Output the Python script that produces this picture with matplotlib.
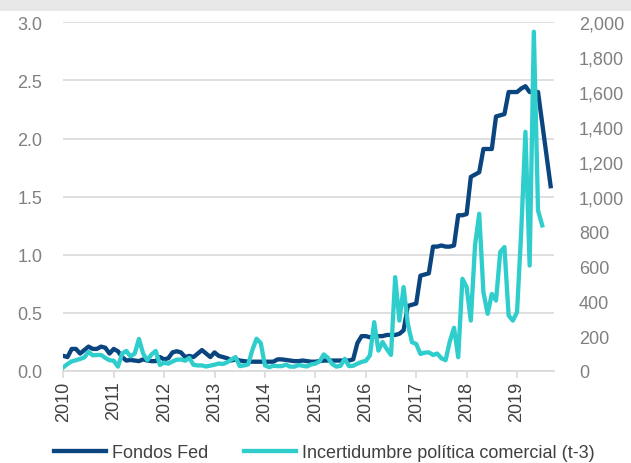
import matplotlib
matplotlib.use("Agg")
import matplotlib.pyplot as plt
from matplotlib.patches import Rectangle
import numpy as np

plt.rcParams['font.family'] = ['Liberation Sans', 'DejaVu Sans']

years = ['2010', '2011', '2012', '2013', '2014', '2015', '2016', '2017', '2018', '2019']

fed_funds = [0.13, 0.12, 0.19, 0.19, 0.15, 0.18, 0.21, 0.19, 0.19, 0.21, 0.20, 0.15,
             0.19, 0.17, 0.12, 0.09, 0.095, 0.09, 0.085, 0.10, 0.09, 0.085, 0.085, 0.12,
             0.10, 0.11, 0.16, 0.17, 0.16, 0.12, 0.13, 0.12, 0.15, 0.18, 0.15, 0.12,
             0.16, 0.13, 0.12, 0.11, 0.09, 0.10, 0.09, 0.085, 0.08, 0.08, 0.08, 0.08,
             0.08, 0.08, 0.08, 0.10, 0.10, 0.095, 0.09, 0.085, 0.085, 0.09, 0.085, 0.08,
             0.08, 0.085, 0.09, 0.09, 0.09, 0.09, 0.09, 0.09, 0.09, 0.10, 0.24, 0.30,
             0.30, 0.29,
             0.30, 0.30, 0.30, 0.31, 0.31, 0.31, 0.32, 0.35,
             0.56, 0.57, 0.58, 0.82, 0.83, 0.84,
             1.07, 1.07, 1.08, 1.07, 1.07, 1.08,
             1.34, 1.34, 1.35, 1.67, 1.69, 1.71,
             1.91, 1.91, 1.91, 2.19, 2.20, 2.21,
             2.40, 2.40, 2.40, 2.43, 2.45,
             2.40, 2.40, 2.40, 2.13, 1.86, 1.59]

trade_uncertainty = [21, 40, 55, 62, 69, 78, 110, 90, 92, 92, 75, 62,
                     59, 25, 100, 115, 84, 100, 184, 100, 62, 95, 115, 35,
                     48, 42, 55, 65, 66, 59, 75, 35, 32, 32, 26, 31,
                     36, 43, 40, 50, 65, 80, 28, 32, 38, 120, 185, 160,
                     32, 22, 30, 28, 28, 36, 25, 25, 34, 30, 26, 38,
                     42, 55, 95, 75, 40, 25, 30, 70, 28, 30, 42, 52,
                     58, 90,
                     280, 117, 166, 126, 92, 538, 289, 481, 270, 165, 155, 98,
                     105, 107, 92, 100, 73, 62, 170, 248, 79, 529, 481, 289,
                     720, 902, 452, 328, 442, 404, 682, 711, 318, 289, 337, 800,
                     1372, 605, 1946, 921, 835]

navy = '#0A4580'
teal = '#30CDCD'
grey_txt = '#808080'
dark_txt = '#404040'

fig = plt.figure(figsize=(6.31, 4.64), dpi=100)
fig.patches.append(Rectangle((0, 1 - 12 / 464), 1, 12 / 464, transform=fig.transFigure,
                             facecolor='#e8e8e8', edgecolor='none', zorder=0))

ax = fig.add_axes([63.3 / 631, (464 - 372) / 464, (554 - 63.3) / 631, (372 - 23.3) / 464])
ax2 = ax.twinx()

x_fed = np.arange(len(fed_funds))
x_tu = np.arange(len(trade_uncertainty))

l1, = ax.plot(x_fed, fed_funds, color=navy, lw=3.1,
              label='Fondos Fed', zorder=3)
l2, = ax2.plot(x_tu, trade_uncertainty, color=teal, lw=3.1,
               label='Incertidumbre política comercial (t-3)', zorder=3)

ax.set_xlim(0, 116.8)
ax.set_ylim(0, 3.0)
ax2.set_ylim(0, 2000)

ax.set_yticks(np.arange(0, 3.01, 0.5))
ax.set_yticklabels([f'{v:.1f}' for v in np.arange(0, 3.01, 0.5)])
ax2.set_yticks(np.arange(0, 2001, 200))
ax2.set_yticklabels([f'{int(v):,}' for v in np.arange(0, 2001, 200)])

ax.set_xticks(np.arange(0, 12 * len(years), 12))
ax.set_xticklabels(years, rotation=90, color=dark_txt, fontsize=13)

ax.grid(axis='y', color='#d9d9d9', lw=1.2)
ax.set_axisbelow(True)

for a in (ax, ax2):
    for s in ('top', 'left', 'right'):
        a.spines[s].set_visible(False)
    a.spines['bottom'].set_color('#d9d9d9')
    a.spines['bottom'].set_linewidth(1.2)
ax2.spines['bottom'].set_visible(False)

ax.tick_params(axis='y', length=0, pad=15, labelsize=13, labelcolor=grey_txt)
ax2.tick_params(axis='y', length=0, pad=18, labelsize=13, labelcolor=grey_txt)
ax.tick_params(axis='x', length=5, width=1.2, color='#d9d9d9', pad=2, direction='out')

fig.legend(handles=[l1, l2], loc='center', bbox_to_anchor=(324 / 631, 1 - 454 / 464),
           ncol=2, frameon=False, fontsize=13, handlelength=2.9, handletextpad=0.3,
           columnspacing=2.0, labelcolor=dark_txt, borderaxespad=0, borderpad=0)

fig.savefig('out.png', dpi=100)
